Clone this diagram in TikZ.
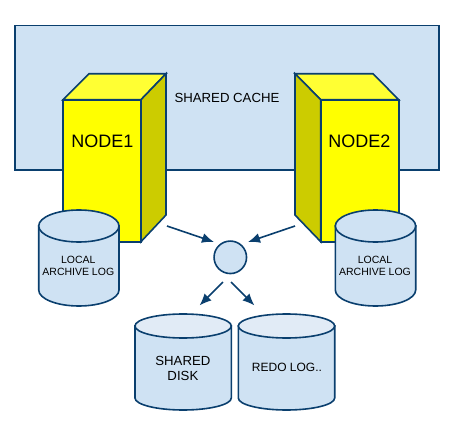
\documentclass[tikz,border=0pt]{standalone}
\usepackage{fontspec}
\setmainfont{Liberation Sans}
\definecolor{paneblue}{HTML}{CFE2F3}
\definecolor{paletop}{HTML}{E1EBF6}
\definecolor{edgeblue}{HTML}{0A3F6E}
\definecolor{boxfront}{HTML}{FFFF00}
\definecolor{boxtop}{HTML}{FFFF33}
\definecolor{boxside}{HTML}{CCCC00}
\tikzset{
  outline/.style={draw=edgeblue,line width=1.6pt,line join=miter},
  flowarrow/.style={draw=edgeblue,line width=1.6pt,-{Latex[length=12pt,width=10pt]}},
  lbl/.style={inner sep=0pt,align=center,text=black},
  cyltext/.style={lbl,font=\fontsize{10.5}{12.5}\selectfont},
  disktext/.style={lbl,font=\fontsize{13.2}{14.7}\selectfont},
}
\usetikzlibrary{arrows.meta}
\newcommand{\cylshape}[7]{% xl xr ytop ry ybot topfill bodyfill
  \pgfmathsetmacro{\cylrx}{(#2-#1)/2}
  \pgfmathsetmacro{\cylcy}{#3+#4}
  \pgfmathsetmacro{\cylsy}{#5-#4}
  \path[outline,fill=#7] (#1,\cylcy) -- (#1,\cylsy) arc[start angle=180,end angle=360,x radius=\cylrx,y radius=-#4] -- (#2,\cylcy) -- cycle;
  \path[outline,fill=#6] (#1,\cylcy) arc[start angle=180,end angle=-180,x radius=\cylrx,y radius=#4] -- cycle;
}
\newcommand{\serverbox}[8]{% front xl xr, back xl xr, ytop ybot yback, side x
  \path[outline,fill=boxfront] (#1,#5) rectangle (#2,#6);
  \path[outline,fill=boxtop] (#1,#5) -- (#3,#7) -- (#4,#7) -- (#2,#5) -- cycle;
  \path[outline,fill=boxside] (#8,#5) -- (#8,#6) -- ({#8==#1?#3:#4},215) -- ({#8==#1?#3:#4},#7) -- cycle;
}
\begin{document}
\begin{tikzpicture}[x=1pt,y=-1pt]
\useasboundingbox (0,0) rectangle (459,439);
\path[outline,fill=paneblue] (14.7,25.5) rectangle (438.7,169.7);
\node[lbl,font=\fontsize{13.2}{15}\selectfont] (cache) at (227,98) {SHARED CACHE};

\serverbox{63}{141}{89}{166}{99.7}{241.7}{73.7}{141}
\serverbox{320.7}{398.7}{295}{373}{99.7}{241.7}{73.7}{320.7}
\node[lbl,font=\fontsize{18}{20}\selectfont] (node1) at (102.3,141.7) {NODE1};
\node[lbl,font=\fontsize{18}{20}\selectfont] (node2) at (359.3,141.7) {NODE2};

\cylshape{38.7}{119}{210}{16}{306}{paneblue}{paneblue}
\cylshape{335.3}{415.7}{210}{16}{306}{paneblue}{paneblue}
\cylshape{135}{231.3}{314}{12}{410}{paletop}{paneblue}
\cylshape{238.3}{334.7}{314}{12}{410}{paletop}{paneblue}

\node[cyltext] (arch1) at (78.3,266) {LOCAL\\ARCHIVE LOG};
\node[cyltext] (arch2) at (375,266) {LOCAL\\ARCHIVE LOG};
\node[disktext] (shared) at (182.9,368.3) {SHARED\\DISK};
\node[lbl,font=\fontsize{12}{14}\selectfont] (redo) at (287,367.7) {REDO LOG..};

\node[circle,outline,fill=paneblue,minimum size=32.5pt,inner sep=0pt] (hub) at (230.3,257.3) {};

\coordinate (n1out) at (167,226);
\coordinate (n2out) at (295,226);
\coordinate (hubinl) at (214,242);
\coordinate (hubinr) at (248,242);
\coordinate (huboutl) at (223,282);
\coordinate (huboutr) at (231,282);
\coordinate (sharedin) at (199.5,305.5);
\coordinate (redoin) at (254.5,305.5);
\draw[flowarrow] (n1out) -- (hubinl);
\draw[flowarrow] (n2out) -- (hubinr);
\draw[flowarrow] (huboutl) -- (sharedin);
\draw[flowarrow] (huboutr) -- (redoin);
\end{tikzpicture}
\end{document}
